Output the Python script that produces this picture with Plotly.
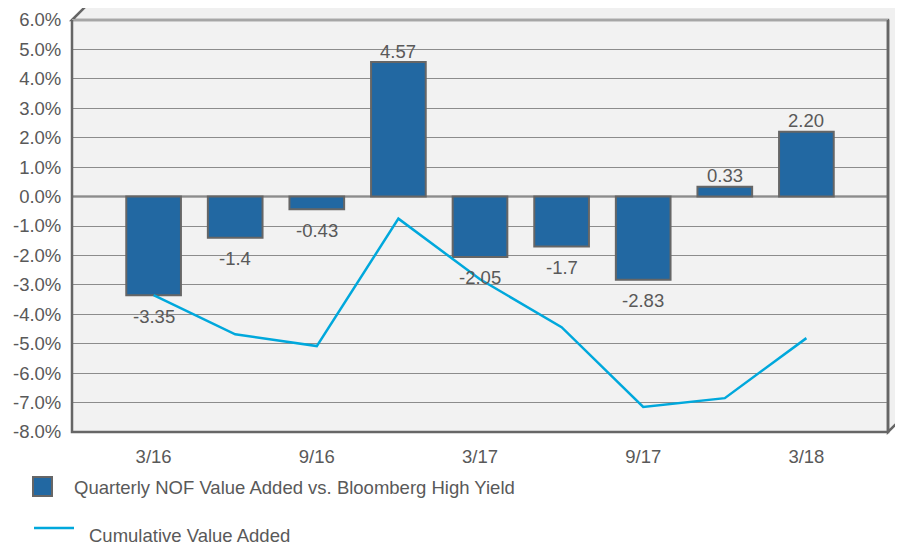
import plotly.graph_objects as go

categories = ["3/16", "6/16", "9/16", "12/16", "3/17", "6/17", "9/17", "12/17", "3/18"]
quarterly = [-3.35, -1.4, -0.43, 4.57, -2.05, -1.7, -2.83, 0.33, 2.20]
quarterly_labels = ["-3.35", "-1.4", "-0.43", "4.57", "-2.05", "-1.7", "-2.83", "0.33", "2.20"]
cumulative = [-3.35, -4.68, -5.08, -0.75, -2.81, -4.44, -7.15, -6.85, -4.81]
x_tick_vals = ["3/16", "9/16", "3/17", "9/17", "3/18"]
y_tick_vals = [6, 5, 4, 3, 2, 1, 0, -1, -2, -3, -4, -5, -6, -7, -8]
y_tick_text = ["6.0%", "5.0%", "4.0%", "3.0%", "2.0%", "1.0%", "0.0%", "-1.0%", "-2.0%",
               "-3.0%", "-4.0%", "-5.0%", "-6.0%", "-7.0%", "-8.0%"]
legend_names = ["Quarterly NOF Value Added vs. Bloomberg High Yield", "Cumulative Value Added"]

OFF = 8  # page body margin
W, H = 903 - OFF, 546 - OFF
L, R, T, B = 72, 888, 20, 432  # in window pixels
FONT = "Liberation Sans, Arial, sans-serif"
FS = 18.5
TXT = "#595959"
BAR = "#2268a2"
LINE = "#00a8dc"
FRAME = "#666666"


def px(x):
    return (x - L) / (R - L)


def py(y):
    return (B - y) / (B - T)


fig = go.Figure()
fig.add_trace(go.Bar(x=categories, y=quarterly, width=0.67,
                     marker=dict(color=BAR, line=dict(color=FRAME, width=2)),
                     name=legend_names[0], showlegend=False))
fig.add_trace(go.Scatter(x=categories, y=cumulative, mode="lines",
                         line=dict(color=LINE, width=2.5),
                         name=legend_names[1], showlegend=False))

for c, v, t in zip(categories, quarterly, quarterly_labels):
    fig.add_annotation(x=c, y=v, text=t, showarrow=False,
                       yshift=11 if v >= 0 else -21,
                       font=dict(family=FONT, size=FS, color=TXT))

shapes = []
path = (f"M {px(72)},{py(20)} L {px(86)},{py(6)} L {px(900)},{py(6)} "
        f"L {px(900)},{py(420)} L {px(888)},{py(432)} L {px(888)},{py(20)} Z")
shapes.append(dict(type="path", xref="paper", yref="paper", path=path,
                   fillcolor="#f0f0f0", line=dict(color=FRAME, width=2.5), layer="below"))
shapes.append(dict(type="line", xref="paper", yref="paper", x0=px(72), x1=px(888), y0=py(20), y1=py(20),
                   line=dict(color="#a6a6a6", width=2), layer="above"))
shapes.append(dict(type="path", xref="paper", yref="paper",
                   path=f"M {px(72)},{py(20)} L {px(72)},{py(432)} L {px(888)},{py(432)} L {px(888)},{py(20)}",
                   line=dict(color=FRAME, width=2.5), layer="above"))
shapes.append(dict(type="line", xref="paper", yref="y", x0=0, x1=1, y0=0, y1=0,
                   line=dict(color=FRAME, width=2), layer="below"))
shapes.append(dict(type="rect", xref="paper", yref="paper", x0=px(33), x1=px(52), y0=py(477), y1=py(496),
                   fillcolor=BAR, line=dict(color=FRAME, width=2)))
shapes.append(dict(type="line", xref="paper", yref="paper", x0=px(34), x1=px(74), y0=py(528), y1=py(528),
                   line=dict(color=LINE, width=2.5)))

fig.add_annotation(xref="paper", yref="paper", x=px(72), y=py(487), text=legend_names[0],
                   xanchor="left", yanchor="middle", showarrow=False,
                   font=dict(family=FONT, size=FS, color=TXT))
fig.add_annotation(xref="paper", yref="paper", x=px(87), y=py(535), text=legend_names[1],
                   xanchor="left", yanchor="middle", showarrow=False,
                   font=dict(family=FONT, size=FS, color=TXT))

fig.update_layout(
    width=W, height=H,
    margin=dict(l=L - OFF, r=W - (R - OFF), t=T - OFF, b=H - (B - OFF), autoexpand=False),
    paper_bgcolor="white", plot_bgcolor="#f2f2f2",
    shapes=shapes, showlegend=False,
    font=dict(family=FONT, size=FS, color=TXT),
)
fig.update_xaxes(range=[-1, 9], tickvals=x_tick_vals, ticktext=x_tick_vals,
                 showgrid=False, ticks="outside", ticklen=8, tickcolor="rgba(0,0,0,0)",
                 showline=False, zeroline=False,
                 tickfont=dict(family=FONT, size=FS, color=TXT))
fig.update_yaxes(range=[-8, 6], tickvals=y_tick_vals, ticktext=y_tick_text,
                 showgrid=True, gridcolor="#8c8c8c", gridwidth=1, zeroline=False,
                 showline=False, ticks="outside", ticklen=6, tickcolor="rgba(0,0,0,0)",
                 tickfont=dict(family=FONT, size=FS, color=TXT))

fig.write_html("out.html")
